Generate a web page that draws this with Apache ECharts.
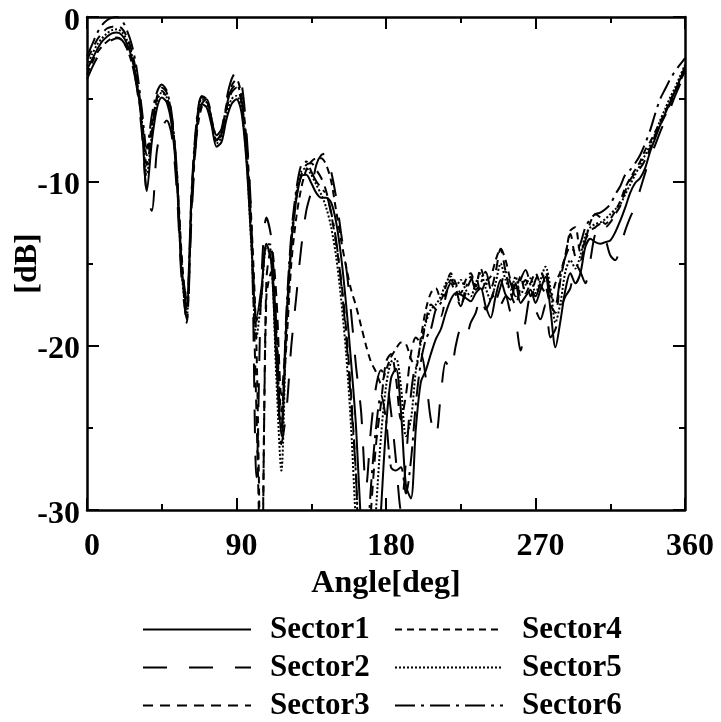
<!DOCTYPE html>
<html><head><meta charset="utf-8">
<script src="https://cdn.jsdelivr.net/npm/echarts@6/dist/echarts.min.js"></script>
<style>html,body{margin:0;padding:0;background:#fff}#c{width:721px;height:722px}</style>
</head><body><div id="c"></div><script>
const angles = [
0,3,6,9,12,15,18,21,24,27,
30,33,36,39,42,45,48,51,54,57,
60,63,66,69,72,75,78,81,84,87,
90,93,96,99,102,105,108,111,114,117,
120,123,126,129,132,135,138,141,144,147,
150,153,156,159,162,165,168,171,174,177,
180,183,186,189,192,195,198,201,204,207,
210,213,216,219,222,225,228,231,234,237,
240,243,246,249,252,255,258,261,264,267,
270,273,276,279,282,285,288,291,294,297,
300,303,306,309,312,315,318,321,324,327,
330,333,336,339,342,345,348,351,354,357,
360];
const sector1 = [
-3.2,-2.6,-2.0,-1.5,-1.2,-1.0,-0.95,-1.1,-1.6,-2.5,
-4.0,-6.6,-10.6,-7.6,-5.6,-4.9,-5.2,-6.6,-9.8,-15.5,
-17.6,-10.8,-6.8,-5.3,-5.5,-6.6,-7.9,-7.6,-6.2,-5.3,
-5.0,-5.8,-8.8,-13.8,-18.3,-16.5,-13.8,-15.0,-21,-25.5,
-18.5,-13.8,-11.1,-9.7,-9.6,-10.1,-10.7,-11.0,-11.0,-11.3,
-12.5,-14.6,-17.5,-21,-25,-31,-35,-35,-35,-30,
-25,-22,-21.4,-24,-28.5,-29.3,-25,-22.2,-21.5,-20.5,
-19.6,-19.0,-18.0,-17.2,-16.8,-16.9,-17.1,-17.3,-16.8,-16.5,
-17.6,-18.3,-17.0,-16.0,-16.9,-17.2,-16.2,-17.4,-17.0,-16.6,
-17.4,-16.6,-15.8,-17.8,-20.1,-18.5,-16.6,-15.6,-16.2,-15.6,
-14.0,-13.5,-13.7,-13.8,-13.7,-13.6,-13.1,-12.4,-11.6,-10.7,
-10.1,-9.8,-9.2,-8.2,-7.4,-6.6,-5.9,-5.2,-4.5,-3.8,
-3.0];
const sector2 = [
-3.8,-3.1,-2.5,-2.0,-1.6,-1.4,-1.3,-1.4,-1.9,-2.8,
-4.3,-7.0,-10.8,-11.8,-8.2,-6.8,-6.3,-7.2,-10.5,-16,
-18.4,-12,-7.2,-5.3,-5.0,-6.0,-7.2,-6.8,-5.0,-3.8,
-3.3,-4.0,-7.0,-12.5,-28,-16,-12.2,-13.5,-19,-26,
-24,-20,-17,-14,-11.8,-10.6,-9.0,-8.4,-8.3,-9.4,
-11.0,-13.2,-15.2,-18,-21.3,-24,-28.6,-25,-22.5,-21.5,
-22,-24,-27,-30,-27,-23,-21,-20.5,-22,-24.5,
-25.5,-23,-21,-21.5,-20,-19,-19.5,-18.6,-18,-17,
-17.8,-17.2,-16.5,-17.5,-17,-18,-18.5,-20.3,-18.5,-17,
-17.8,-18.4,-17.5,-19.5,-19,-17.8,-17,-16.5,-15,-15.5,
-16.2,-14.8,-13.2,-13,-13.5,-14.5,-14.8,-14,-13,-12.2,
-11.5,-10.5,-9.5,-8.5,-7.8,-7,-6.3,-5.6,-4.8,-4.1,
-3.4];
const sector3 = [
-2.6,-2.0,-1.4,-1.0,-0.7,-0.6,-0.55,-0.7,-1.2,-2.1,
-3.6,-6.0,-9.0,-7.0,-4.9,-4.3,-4.6,-6.0,-9.5,-15,
-18.6,-11,-6.5,-4.9,-5.0,-6.2,-7.5,-7.0,-5.6,-4.6,
-4.3,-5.2,-8.2,-13.5,-24,-35,-16,-14,-17,-23,
-19,-14,-11,-9.6,-9.0,-8.9,-9.3,-9.8,-10.6,-12,
-13.8,-16,-19,-23,-28,-35,-35,-30,-26,-23.5,
-21,-20.5,-22,-24.5,-23,-20.5,-19.5,-19.8,-18.5,-17.5,
-17.8,-18.2,-17,-16,-16.5,-17.5,-16.8,-16,-15.8,-16.8,
-16.2,-16.5,-15.5,-14.1,-15.5,-16.8,-17.5,-16.5,-16,-17,
-16,-15.5,-16.3,-17.5,-18,-16,-14.5,-13.2,-14.6,-14.8,
-13.6,-13,-12.8,-12.6,-12.8,-12.5,-12.0,-11.5,-10.6,-9.9,
-9.5,-9.2,-8.7,-8.0,-7.2,-6.6,-6.0,-5.3,-4.6,-3.9,
-3.2];
const sector4 = [
-3.5,-2.8,-2.2,-1.8,-1.5,-1.3,-1.25,-1.4,-1.9,-2.8,
-4.2,-6.2,-8.4,-6.6,-5.0,-4.5,-4.9,-6.2,-9.2,-14.5,
-17.8,-11.5,-7.2,-5.5,-5.2,-6.2,-7.5,-7.0,-5.3,-4.2,
-3.8,-4.8,-7.5,-12.5,-20,-35,-17,-15.5,-19,-24,
-20,-15,-12.2,-10.4,-9.3,-8.8,-8.6,-8.6,-9.0,-10.0,
-11.8,-13.6,-15.2,-16.6,-17.6,-18.8,-20,-21,-21.6,-22.3,
-21.5,-20.7,-20.2,-19.8,-19.9,-20.8,-21.3,-19.5,-17.8,-16.8,
-16.5,-17.2,-16.4,-15.6,-16.2,-16.8,-16.0,-15.6,-16.4,-15.3,
-16.0,-15.8,-14.8,-14.1,-14.8,-16.0,-16.5,-15.8,-16.8,-16.2,
-15.6,-16.3,-16.8,-17.0,-16.2,-15.5,-14.5,-13.0,-12.8,-14.3,
-13.6,-12.5,-12.0,-12.2,-12.6,-12.3,-11.8,-11.2,-10.4,-9.8,
-9.3,-8.8,-8.1,-7.6,-7.0,-6.4,-5.8,-5.1,-4.5,-3.9,
-3.3];
const sector5 = [
-3.0,-2.3,-1.7,-1.3,-1.0,-0.8,-0.75,-0.9,-1.4,-2.3,
-3.8,-6.3,-9.6,-7.2,-5.2,-4.6,-4.9,-6.3,-9.6,-15.5,
-18.2,-11,-6.6,-5.0,-5.2,-6.4,-7.7,-7.3,-5.9,-5.0,
-4.8,-5.6,-8.6,-14,-19.5,-17,-14,-14.8,-22,-27.6,
-19,-13.5,-10.8,-9.4,-9.2,-9.6,-10.2,-10.8,-11.6,-12.8,
-14.6,-17.2,-20.5,-25,-31,-35,-35,-35,-30,-25.5,
-22.5,-21.0,-20.8,-22.5,-25.5,-24.5,-21.5,-19.8,-18.6,-17.8,
-17.5,-17.0,-16.2,-15.8,-16.4,-16.0,-16.6,-17.0,-16.2,-15.6,
-16.5,-17.2,-16.2,-15.0,-16.0,-16.6,-15.8,-16.9,-16.3,-15.9,
-16.8,-16.0,-15.2,-16.5,-18.6,-17.4,-15.5,-14.8,-15.3,-14.5,
-13.3,-12.8,-12.6,-12.5,-12.3,-12.0,-11.7,-11.4,-10.8,-10.2,
-9.6,-9.0,-8.4,-7.8,-7.1,-6.3,-5.6,-4.9,-4.3,-3.6,
-2.9];
const sector6 = [
-2.4,-1.7,-1.0,-0.5,-0.2,-0.05,0.0,-0.2,-0.8,-1.7,
-3.2,-5.6,-8.0,-6.0,-4.6,-4.1,-4.5,-5.9,-9.3,-15,
-17.2,-10.5,-6.3,-4.8,-5.0,-6.2,-7.6,-7.1,-5.4,-4.4,
-4.1,-5.0,-8.0,-13,-18.5,-17,-13.8,-13.9,-19.5,-25,
-18,-13.2,-10.5,-9.0,-8.8,-9.4,-10.0,-10.4,-10.8,-11.9,
-13.6,-16.2,-19.4,-23.5,-28,-35,-33,-28.5,-25,-23,
-24.5,-27.4,-27.6,-27.4,-29,-27,-23.5,-21,-19.6,-19.0,
-17.8,-17.4,-16.8,-16.2,-16.9,-17.6,-16.5,-15.8,-16.6,-16.2,
-15.5,-16.6,-17.2,-16.4,-15.5,-16.2,-17.0,-16.0,-15.4,-16.3,
-17.0,-16.2,-15.5,-16.8,-17.5,-15.8,-14.6,-14.0,-14.3,-13.8,
-12.8,-12.3,-12.0,-11.9,-11.7,-11.4,-10.8,-10.3,-9.6,-9.3,
-8.9,-8.4,-7.7,-6.9,-5.9,-5.0,-4.4,-3.8,-3.3,-2.9,
-2.5];
const xTicks = [0, 90, 180, 270, 360];
const yTicks = [-30, -20, -10, 0];
const seriesNames = ['Sector1','Sector2','Sector3','Sector4','Sector5','Sector6'];
const seriesValues = [sector1, sector2, sector3, sector4, sector5, sector6];
const dashTypes = ['solid', [24,22], [10,7], [7,5], [2,2], [20,6,3,6]];

const FONT = 'Liberation Serif';
const txt = (size) => ({fontFamily: FONT, fontWeight: 'bold', fontSize: size, color: '#000'});
const lineBlack = {color: '#000', width: 2};

function xAx(pos, showLabel) {
  return {
    type: 'value', position: pos,
    min: xTicks[0], max: xTicks[xTicks.length-1], interval: xTicks[1]-xTicks[0],
    axisLine: {onZero: false, lineStyle: {color:'#000', width: 2.5}},
    axisTick: {inside: true, length: 12, lineStyle: lineBlack},
    minorTick: {show: true, splitNumber: 2, length: 6, lineStyle: lineBlack},
    splitLine: {show: false},
    axisLabel: showLabel ? Object.assign(txt(32), {
      margin: 21,
      formatter: (v) => '{p|' + v + '}',
      rich: {p: Object.assign(txt(32), {padding: [0, 0, 0, 10]})}
    }) : {show: false},
    name: showLabel ? 'Angle[deg]' : '',
    nameLocation: 'middle', nameGap: 51,
    nameTextStyle: txt(32)
  };
}
function yAx(pos, showLabel) {
  return {
    type: 'value', position: pos,
    min: yTicks[0], max: yTicks[yTicks.length-1], interval: yTicks[1]-yTicks[0],
    axisLine: {onZero: false, lineStyle: {color:'#000', width: 2.5}},
    axisTick: {inside: true, length: 12, lineStyle: lineBlack},
    minorTick: {show: true, splitNumber: 2, length: 6, lineStyle: lineBlack},
    splitLine: {show: false},
    axisLabel: showLabel ? Object.assign(txt(32), {
      margin: 7,
      formatter: (v) => '{p|' + v + '}',
      rich: {p: Object.assign(txt(32), {padding: [9, 0, 0, 0]})}
    }) : {show: false},
    name: showLabel ? '[dB]' : '',
    nameLocation: 'middle', nameGap: 43, nameRotate: 90, nameMoveOverlap: false,
    nameTextStyle: txt(32)
  };
}

const legendCommon = {
  orient: 'vertical', top: 614, padding: 0, itemWidth: 108, itemHeight: 14, itemGap: 7,
  itemStyle: {color: 'transparent', borderWidth: 0, opacity: 0},
  textStyle: Object.assign(txt(31), {padding: [0,0,0,14]}),
  selectedMode: false
};

const chart = echarts.init(document.getElementById('c'), null, {renderer: 'canvas'});
chart.setOption({
  animation: false,
  backgroundColor: '#fff',
  grid: {left: 87, right: 36, top: 17, bottom: 212, containLabel: false, outerBoundsMode: 'none'},
  xAxis: [xAx('bottom', true), xAx('top', false)],
  yAxis: [yAx('left', true), yAx('right', false)],
  legend: [
    Object.assign({}, legendCommon, {left: 142, height: 108, data: seriesNames.slice(0,3)}),
    Object.assign({}, legendCommon, {left: 394, height: 108, data: seriesNames.slice(3,6)})
  ],
  series: seriesNames.map((n, k) => ({
    name: n, type: 'line', xAxisIndex: 0, yAxisIndex: 0,
    data: angles.map((a, i) => [a, seriesValues[k][i]]),
    symbol: 'none', smooth: 0.3, clip: true,
    lineStyle: {color: '#000', width: 2, type: dashTypes[k]},
    itemStyle: {color: '#000'}
  }))
});
</script></body></html>
